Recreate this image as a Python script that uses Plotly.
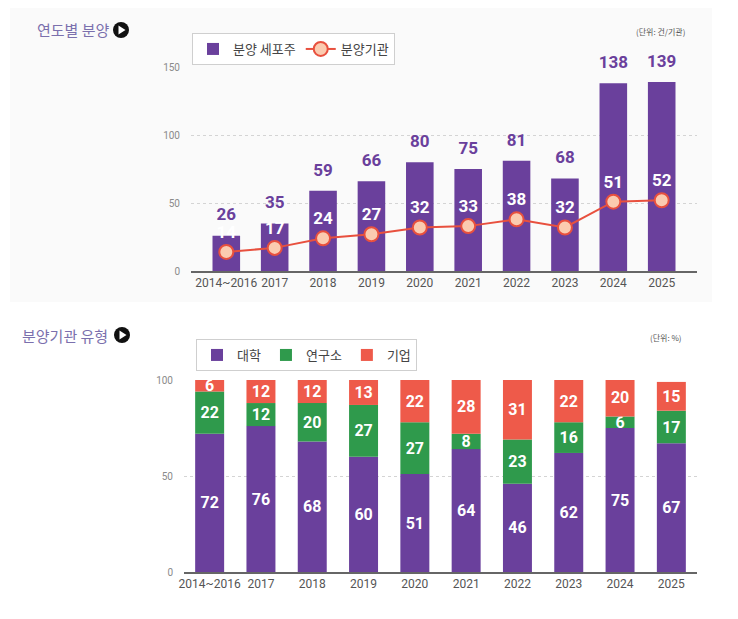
import plotly.graph_objects as go

# --- 데이터 ---
years = ["2014~2016", "2017", "2018", "2019", "2020", "2021", "2022", "2023", "2024", "2025"]
cell_lines = [26, 35, 59, 66, 80, 75, 81, 68, 138, 139]
institutions = [14, 17, 24, 27, 32, 33, 38, 32, 51, 52]

univ = [72, 76, 68, 60, 51, 64, 46, 62, 75, 67]
institute = [22, 12, 20, 27, 27, 8, 23, 16, 6, 17]
company = [6, 12, 12, 13, 22, 28, 31, 22, 20, 15]

W, H = 738, 619
OFF = 8  # 페이지 body 여백 보정
PURPLE = "#6a409c"
GREEN = "#2f9a4c"
RED = "#ee5a4a"
KR = "Noto Sans CJK KR"
NUM = "Roboto"


def px_x(v):
    return (v - OFF) / W


def px_y(v):
    return 1 - (v - OFF) / H


fig = go.Figure()

# [1] 연도별 분양
fig.add_trace(go.Bar(
    x=years, y=cell_lines, name="분양 세포주", width=0.57,
    marker=dict(color=PURPLE, line=dict(width=0)),
    xaxis="x", yaxis="y", legend="legend",
))
# 막대 값 라벨 (막대 위 여백 확보용 투명 마커)
fig.add_trace(go.Scatter(
    x=years, y=cell_lines, mode="markers+text", showlegend=False,
    marker=dict(size=16, opacity=0),
    text=cell_lines, textposition="top center", cliponaxis=False,
    textfont=dict(family=NUM, size=17, color=PURPLE, weight="bold"),
    xaxis="x", yaxis="y", hoverinfo="skip",
))
fig.add_trace(go.Scatter(
    x=years, y=institutions, name="분양기관", mode="lines+markers+text",
    line=dict(color="#e8503e", width=2),
    marker=dict(size=14, color="#fbcbb0", line=dict(color="#e8503e", width=2)),
    text=institutions, textposition="top center", cliponaxis=False,
    textfont=dict(family=NUM, size=17, color="white", weight="bold"),
    xaxis="x", yaxis="y", legend="legend",
))

# [2] 분양기관 유형 (누적)
for name, vals, col in [("대학", univ, PURPLE), ("연구소", institute, GREEN), ("기업", company, RED)]:
    fig.add_trace(go.Bar(
        x=years, y=vals, name=name, width=0.565,
        marker=dict(color=col, line=dict(width=0)),
        text=vals, textposition="inside", insidetextanchor="middle", textangle=0,
        constraintext="none",
        textfont=dict(family=NUM, size=16, color="white", weight="bold"),
        xaxis="x2", yaxis="y2", legend="legend2",
    ))

axis_common = dict(
    showgrid=True, gridcolor="#d4d4d4", griddash="dot", gridwidth=1,
    zeroline=False, ticks="", ticklabelstandoff=10, automargin=False,
    tickfont=dict(family=NUM, size=10, color="#8a8a8a"),
)
xaxis_common = dict(
    showgrid=False, showline=True, linecolor="#666", linewidth=2,
    ticks="", automargin=False, tickfont=dict(family=NUM, size=12, color="#555"),
)
legend_common = dict(
    orientation="h", xanchor="left", yanchor="top", itemwidth=30,
    bgcolor="white", bordercolor="#cfcfcf", borderwidth=1,
    font=dict(family=KR, size=13, color="#444"), itemclick=False,
)

fig.update_layout(
    width=W, height=H,
    margin=dict(l=0, r=0, t=0, b=0, autoexpand=False),
    paper_bgcolor="white", plot_bgcolor="rgba(0,0,0,0)",
    barmode="relative",
    uniformtext=dict(minsize=16, mode="show"),
    xaxis=dict(**xaxis_common, domain=[px_x(191), px_x(697)], anchor="y"),
    yaxis=dict(**axis_common, domain=[px_y(271), px_y(67)], range=[0, 150],
               tickvals=[0, 50, 100, 150], anchor="x"),
    xaxis2=dict(**xaxis_common, domain=[px_x(184), px_x(697)], anchor="y2"),
    yaxis2=dict(**axis_common, domain=[px_y(572), px_y(380)], range=[0, 100],
                tickvals=[0, 50, 100], anchor="x2"),
    legend=dict(**legend_common, x=px_x(192), y=px_y(33)),
    legend2=dict(**legend_common, x=px_x(196), y=px_y(339)),
    showlegend=True,
)

# 배경 패널
fig.add_shape(type="rect", xref="paper", yref="paper", x0=px_x(10), x1=px_x(712),
              y0=px_y(302), y1=px_y(0), fillcolor="#fafafa", line=dict(width=0), layer="below")

# 제목 + 아이콘
for txt, tx, ty, ix in [("연도별 분양", 35, 30, 121), ("분양기관 유형", 20, 335, 122)]:
    fig.add_annotation(text=txt, x=px_x(tx), y=px_y(ty), xref="paper", yref="paper",
                       xanchor="left", yanchor="middle", showarrow=False,
                       font=dict(family=KR, size=15, color="#7b70ad"))
    fig.add_shape(type="circle", xref="paper", yref="paper",
                  xsizemode="pixel", ysizemode="pixel",
                  xanchor=px_x(ix), yanchor=px_y(ty), x0=-8, x1=8, y0=-8, y1=8,
                  fillcolor="#111", line=dict(width=0))
    fig.add_shape(type="path", xref="paper", yref="paper",
                  xsizemode="pixel", ysizemode="pixel",
                  xanchor=px_x(ix), yanchor=px_y(ty),
                  path="M -2.5 -4.5 L 4.5 0 L -2.5 4.5 Z",
                  fillcolor="white", line=dict(width=0))

# 단위
for txt, rx, ty in [("(단위: 건/기관)", 687, 32), ("(단위: %)", 684, 337)]:
    fig.add_annotation(text=txt, x=px_x(rx), y=px_y(ty), xref="paper", yref="paper",
                       xanchor="right", yanchor="middle", showarrow=False,
                       font=dict(family=KR, size=8, color="#555"))

fig.write_html("out.html")
